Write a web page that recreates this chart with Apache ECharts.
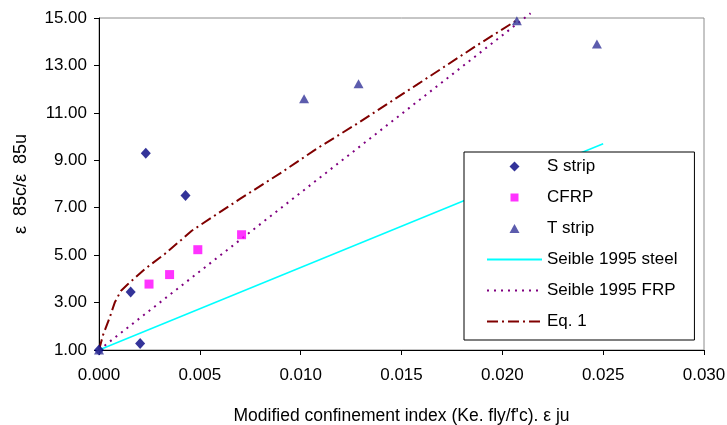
<!DOCTYPE html>
<html>
<head>
<meta charset="utf-8">
<script src="https://cdn.jsdelivr.net/npm/echarts@6/dist/echarts.min.js"></script>
<style>
  html, body { margin: 0; padding: 0; background: #fff; }
  #echarts { width: 727px; height: 425px; }
</style>
</head>
<body>
<div id="echarts"></div>
<script>
// values
var sStripX = [0, 0.00157, 0.00204, 0.00232, 0.00429];
var sStripY = [1.00, 3.45, 1.27, 9.30, 7.51];
var cfrpX = [0.00248, 0.00350, 0.00490, 0.00707];
var cfrpY = [3.78, 4.18, 5.23, 5.86];
var tStripX = [0, 0.01017, 0.01287, 0.02072, 0.02469];
var tStripY = [1.00, 11.60, 12.23, 14.88, 13.90];
var steelX = [0, 0.0250];
var steelY = [1.00, 9.70];
var frpX = [0, 0.0214];
var frpY = [1.00, 15.20];
var eq1X = [0, 0.0002, 0.00053, 0.00078, 0.00108, 0.00144, 0.00227, 0.00326, 0.00409, 0.0046, 0.00699, 0.00898, 0.0108, 0.01279, 0.01577, 0.01875, 0.0208];
var eq1Y = [1.00, 1.63, 2.37, 3.00, 3.49, 3.78, 4.41, 5.05, 5.65, 6.03, 7.37, 8.45, 9.49, 10.54, 12.19, 13.85, 14.95];
var yTicks = [1, 3, 5, 7, 9, 11, 13, 15];

function pairs(xs, ys) {
	var out = [];
	for (var i = 0; i < xs.length; i++) out.push([xs[i], ys[i]]);
	return out;
}

var font = 'Liberation Sans, Arial, sans-serif';
// no symbol on the line keys: keep the marker but make it invisible
var noMark = { color: 'rgba(0,0,0,0)', borderWidth: 0, opacity: 0 };
// legend keys as paths so they keep their aspect (extra moveTo widens the box)
var keyDiamond = 'path://M-0.5,-0.5M10.5,10.5M5,0L10,5L5,10L0,5Z';
var keySquare = 'path://M-1.5,-1.5M9.5,9.5M0,0L8,0L8,8L0,8Z';
var keyTriangle = 'path://M-0.5,-1M10.5,10M5,0L10,9L0,9Z';

myChart = echarts.init(document.getElementById('echarts'), null, {renderer: 'canvas'});
var option = {
	animation: false,
	textStyle: { fontFamily: font },
	grid: {
		left: 99, right: 23, top: 18, bottom: 75,
		outerBoundsMode: 'none',
		show: true, borderColor: '#8c8c8c', borderWidth: 1
	},
	legend: {
		data: [
			{ name: 'S strip', icon: keyDiamond },
			{ name: 'CFRP', icon: keySquare },
			{ name: 'T strip', icon: keyTriangle },
			'Seible 1995 steel', 'Seible 1995 FRP', 'Eq. 1'
		],
		orient: 'vertical',
		left: 464, top: 152,
		padding: [6, 17, 10, 22],
		itemWidth: 55, itemHeight: 11,
		itemGap: 14,
		symbolKeepAspect: true,
		borderColor: '#000', borderWidth: 1,
		backgroundColor: '#fff',
		textStyle: { fontSize: 17, color: '#000', fontFamily: font, lineHeight: 17 }
	},
	xAxis: {
		type: 'value',
		min: 0, max: 0.03, interval: 0.005,
		name: "Modified confinement index (Ke. fly/f'c). \u03b5 ju",
		nameLocation: 'middle', nameGap: 57,
		nameTextStyle: { fontSize: 17.5, color: '#000', fontFamily: font, verticalAlign: 'top' },
		axisLine: { lineStyle: { color: '#000', width: 1 } },
		axisTick: { inside: false, length: 5, lineStyle: { color: '#000' } },
		axisLabel: { fontSize: 17, color: '#000', margin: 17, formatter: function(v){ return v.toFixed(3); } },
		splitLine: { show: false }
	},
	yAxis: {
		type: 'value',
		min: 1, max: 15,
		name: '\u03b5  85c/\u03b5  85u',
		nameLocation: 'middle', nameGap: 69,
		nameTextStyle: { fontSize: 18, color: '#000', fontFamily: font },
		axisLine: { show: true, lineStyle: { color: '#000', width: 1 } },
		axisTick: { show: true, length: 5, customValues: yTicks, lineStyle: { color: '#000' } },
		axisLabel: { fontSize: 17, color: '#000', margin: 12, customValues: yTicks, formatter: function(v){ return v.toFixed(2); } },
		splitLine: { show: false }
	},
	series: [
		{
			name: 'S strip', type: 'scatter', z: 5,
			symbol: 'diamond', symbolSize: [10, 11],
			itemStyle: { color: '#000080' },
			data: pairs(sStripX, sStripY)
		},
		{
			name: 'CFRP', type: 'scatter', z: 5,
			symbol: 'rect', symbolSize: 9,
			itemStyle: { color: '#ff00ff' },
			data: pairs(cfrpX, cfrpY)
		},
		{
			name: 'T strip', type: 'scatter', z: 6,
			symbol: 'triangle', symbolSize: [10, 9],
			itemStyle: { color: '#333399' },
			data: pairs(tStripX, tStripY)
		},
		{
			name: 'Seible 1995 steel', type: 'line', z: 2,
			symbol: 'none', showSymbol: false,
			itemStyle: noMark,
			lineStyle: { color: '#00ffff', width: 1.5, type: 'solid' },
			data: pairs(steelX, steelY)
		},
		{
			name: 'Seible 1995 FRP', type: 'line', z: 2, clip: false,
			symbol: 'none', showSymbol: false,
			itemStyle: noMark,
			lineStyle: { color: '#800080', width: 2, type: [2, 5] },
			data: pairs(frpX, frpY)
		},
		{
			name: 'Eq. 1', type: 'line', z: 3, clip: false,
			symbol: 'none', showSymbol: false,
			itemStyle: noMark,
			lineStyle: { color: '#800000', width: 2, type: [11, 4, 2, 4] },
			data: pairs(eq1X, eq1Y)
		}
	]
};
myChart.setOption(option);
</script>
</body>
</html>
